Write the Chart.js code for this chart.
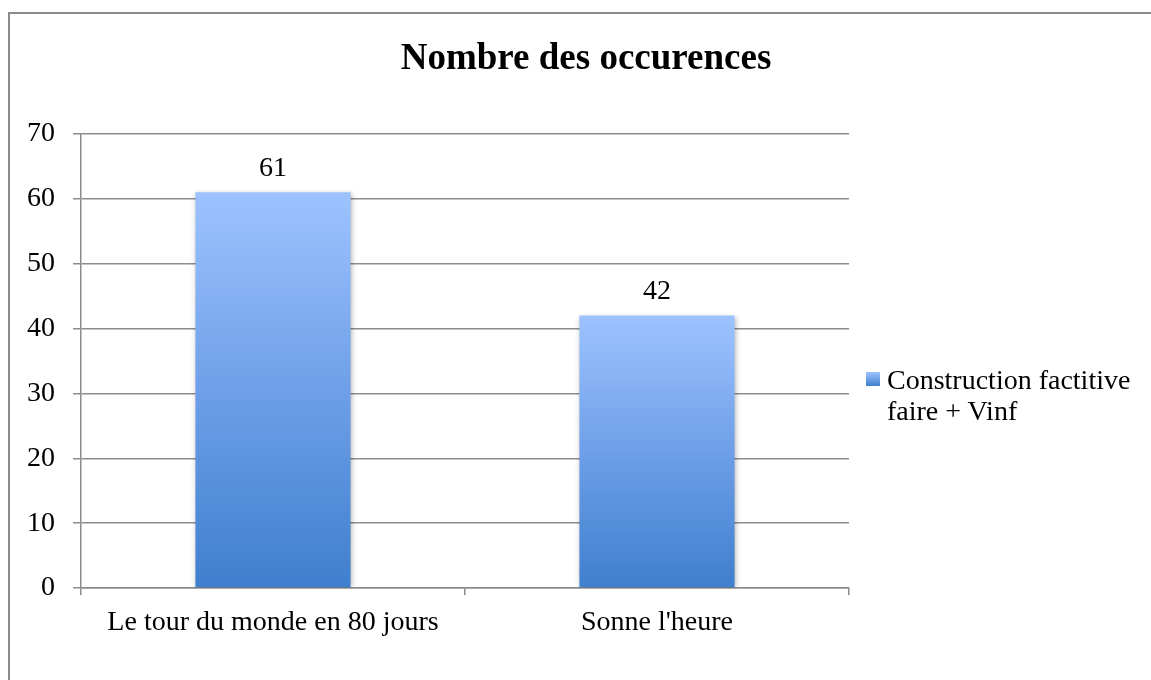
<!DOCTYPE html>
<html>
<head>
<meta charset="utf-8">
<script src="https://cdn.jsdelivr.net/npm/chart.js@4"></script>
<style>
  html, body { margin: 0; padding: 0; background: #fff; overflow: hidden; }
  .wrap { position: relative; width: 1151px; height: 680px; }
  .frame { position: absolute; left: 8px; top: 12px; width: 1300px; height: 900px; border: 2px solid #8c8c8c; box-sizing: border-box; }
  canvas { position: absolute; left: 0; top: 0; }
  .title { position: absolute; left: 386px; width: 400px; top: 34px; text-align: center;
           font: bold 37px "Liberation Serif", serif; color: #000; line-height: 46px; }
  .legend { position: absolute; left: 866px; top: 364px; font: 28px "Liberation Serif", serif; line-height: 31px; color: #000; }
  .legend .box { position: absolute; left: 0; top: 8px; width: 14px; height: 14px;
                 background: linear-gradient(#9dc3ff, #3f7fcd); }
  .legend .txt { position: absolute; left: 21px; top: 0; width: 270px; }
</style>
</head>
<body>
<div class="wrap">
  <div class="frame"></div>
  <canvas id="myChart" width="1151" height="680"></canvas>
  <div class="title">Nombre des occurences</div>
  <div class="legend"><div class="box"></div><div class="txt">Construction factitive<br>faire + Vinf</div></div>
</div>
<script>
const categories = ['Le tour du monde en 80 jours', "Sonne l'heure"];
const occurences = [61, 42];
const seriesName = 'Construction factitive faire + Vinf';
const yTicks = [0, 10, 20, 30, 40, 50, 60, 70];

const gridColor = '#8c8c8c';
const labelFont = { family: 'Liberation Serif', size: 28 };

const barGradient = (c) => {
    const chart = c.chart;
    if (!chart.chartArea || c.raw === undefined) return '#6a9ee8';
    const y = chart.scales.y;
    const top = y.getPixelForValue(c.raw);
    const bottom = y.getPixelForValue(0);
    const g = chart.ctx.createLinearGradient(0, top, 0, bottom);
    g.addColorStop(0, '#9dc3ff');
    g.addColorStop(0.5, '#6e9fe8');
    g.addColorStop(1, '#3f7fcd');
    return g;
};

// soft shadow under the bars
const barShadow = {
    id: 'barShadow',
    beforeDatasetsDraw(chart) {
        const ctx = chart.ctx;
        ctx.save();
        ctx.shadowColor = 'rgba(0,0,0,0.28)';
        ctx.shadowBlur = 5;
        ctx.shadowOffsetX = 1;
        ctx.shadowOffsetY = 1;
    },
    afterDatasetsDraw(chart) {
        chart.ctx.restore();
    }
};

// value labels above each bar
const valueLabels = {
    id: 'valueLabels',
    afterDatasetsDraw(chart) {
        const ctx = chart.ctx;
        ctx.save();
        ctx.font = '28px "Liberation Serif"';
        ctx.fillStyle = '#000';
        ctx.textAlign = 'center';
        ctx.textBaseline = 'middle';
        chart.getDatasetMeta(0).data.forEach((bar, i) => {
            ctx.fillText(String(chart.data.datasets[0].data[i]), bar.x, bar.y - 24);
        });
        ctx.restore();
    }
};

const ctx = document.getElementById('myChart').getContext('2d');
let myChart = new Chart(ctx, {
    type: 'bar',
    data: {
        labels: categories,
        datasets: [
            {
                label: seriesName,
                data: occurences,
                backgroundColor: barGradient,
                borderWidth: 0,
                categoryPercentage: 1,
                barPercentage: 0.404
            }
        ]
    },
    options: {
        responsive: false,
        animation: false,
        layout: { padding: { left: 0, top: 134, right: 302, bottom: 0 } },
        plugins: {
            legend: { display: false },
            title: { display: false },
            tooltip: { enabled: false }
        },
        scales: {
            x: {
                offset: true,
                grid: { offset: true, drawOnChartArea: false, drawTicks: true, tickLength: 7, color: gridColor, lineWidth: 1.5 },
                border: { display: true, color: gridColor, width: 1.5 },
                ticks: { color: '#000', font: labelFont, padding: 11, maxRotation: 0 },
                afterFit: (s) => { s.height = 92; }
            },
            y: {
                min: 0,
                max: 70,
                afterBuildTicks: (s) => { s.ticks = yTicks.map(v => ({ value: v })); },
                grid: { color: gridColor, lineWidth: 1.5, tickLength: 8 },
                border: { display: true, color: gridColor, width: 1.5 },
                ticks: { color: '#000', font: labelFont, padding: 18 },
                afterFit: (s) => { s.width = 81; }
            }
        }
    },
    plugins: [barShadow, valueLabels]
});
</script>
</body>
</html>
